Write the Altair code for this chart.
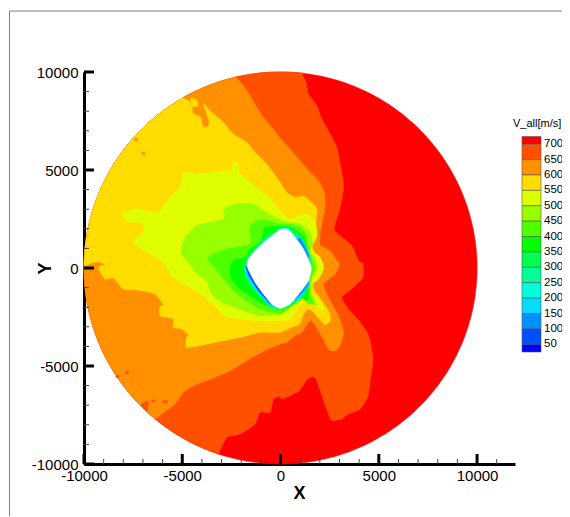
import math
import altair as alt
import pandas as pd

X_TICKS_MAJOR = [-10000, -5000, 0, 5000, 10000]
Y_TICKS_MAJOR = [-10000, -5000, 0, 5000, 10000]
X_TICKS_MINOR = [-9000, -8000, -7000, -6000, -4000, -3000, -2000, -1000, 1000, 2000, 3000, 4000, 6000, 7000, 8000, 9000, 11000]
Y_TICKS_MINOR = [-9000, -8000, -7000, -6000, -4000, -3000, -2000, -1000, 1000, 2000, 3000, 4000, 6000, 7000, 8000, 9000]

LEGEND_TITLE = "V_all[m/s]"
LEGEND_LEVELS = [700, 650, 600, 550, 500, 450, 400, 350, 300, 250, 200, 150, 100, 50]
LEGEND_HIGH = [725, 700, 650, 600, 550, 500, 450, 400, 350, 300, 250, 200, 150, 100, 50]
LEGEND_LOW = [700, 650, 600, 550, 500, 450, 400, 350, 300, 250, 200, 150, 100, 50, 25]
LEGEND_COLORS = ["#ff0000", "#ff5000", "#ff9000", "#ffdd00", "#dfff00", "#99ff00", "#50ff00", "#00ff00",
                 "#00ff50", "#00ff99", "#00ffdd", "#00ddff", "#0090ff", "#0050ff", "#0000ff"]

DISK_RADIUS = 10000

EDGE_650 = [(1131,9809),(1301,9469),(1420,8874),(1845,8279),(2100,7599),(2525,6834),(2865,6154),(3069,5134),(3205,4114),
    (3035,3094),(2729,1989),(3035,1649),(3630,1139),(3970,374),(4191,204),(4191,-476),(3715,-986),(3120,-1496),(3460,-2091),
    (4055,-2771),(4480,-3451),(4701,-4641),(4565,-5746),(4429,-6596),(4055,-7191),(3460,-7446),(3120,-7701),(2610,-7786),
    (2440,-7446),(2185,-6766),(1845,-5746),(1590,-5542),(1301,-5746),(995,-6222),(485,-6511),(60,-6681),(-23,-6562),
    (-362,-6681),(-532,-7361),(-1041,-7361),(-1296,-7956),(-1890,-8381),(-2314,-8551),(-2738,-8636),(-3162,-9486)]
EDGE_600 = [(-2314,9758),(-1890,9299),(-1550,8789),(-1211,8194),(-871,7684),(-447,7174),(-23,6630),(484,6069),(993,5474),
    (1502,4879),(1927,4454),(2215,3859),(2266,3094),(2096,2244),(1977,1394),(2045,1139),(2520,884),(2860,374),(2996,204),
    (2775,-306),(2181,-850),(2521,-1666),(2945,-2431),(3199,-3281),(3030,-3961),(2775,-4216),(2436,-4131),(2181,-3621),
    (1927,-3196),(1587,-2686),(1417,-2771),(1078,-3281),(739,-3451),(314,-3791),(-25,-3876),(-871,-4250),(-1720,-4726),
    (-2568,-5236),(-3756,-5746),(-4435,-6001),(-4944,-6341),(-5369,-6936),(-6387,-7701)]
EDGE_550 = [(-4690,8534),(-4520,8194),(-4435,7854),(-4096,7718),(-3960,7259),(-3756,7174),(-3621,7429),(-3841,8109),
    (-3892,8364),(-3587,8024),(-2908,7429),(-2399,6834),(-1720,6409),(-1296,5899),(-702,5304),(-23,4369),(314,3859),(739,3604),
    (1163,3655),(1587,3349),(1842,3009),(1808,2414),(1672,1649),(1587,1139),(1757,714),(2181,204),(2096,34),(2011,-391),
    (1757,-646),(1638,-986),(2096,-1666),(2487,-2261),(2521,-2686),(2266,-2890),(1977,-2601),(1672,-2261),(1417,-2091),
    (1163,-2346),(993,-2856),(569,-3026),(-25,-3281),(-1041,-3281),(-1890,-3502),(-2908,-3706),(-3756,-3876),(-4775,-4046),
    (-4775,-3536),(-4690,-3400),(-5029,-3111),(-5453,-3026),(-5453,-2601),(-6132,-2431),(-6132,-1972),(-5962,-1870),
    (-6387,-1326),(-7320,-1122),(-7999,-1071),(-8508,-510),(-8932,-561),(-9272,34),(-8932,153),(-9187,306),(-9492,289),
    (-9696,204),(-9950,119)]
REGION_500 = [(-7999,3094),(-7914,2839),(-7235,3009),(-6217,2839),(-5708,3519),(-5114,4114),(-4944,4879),(-4265,4794),
    (-3417,4879),(-2738,4964),(-2484,4964),(-2399,5389),(-2195,5338),(-2093,4828),(-1550,4369),(-956,3859),(-532,3519),
    (-194,3094),(400,2499),(909,2669),(1333,2754),(1758,2329),(1843,1649),(1588,1054),(1673,799),(2012,544),(2182,-51),
    (1927,-561),(1588,-816),(1367,-1377),(1587,-1241),(2181,-2006),(2096,-2176),(1757,-1836),(1502,-1496),(1163,-1666),
    (908,-2006),(484,-2601),(-25,-2686),(-1041,-2686),(-2059,-2601),(-2908,-2431),(-3162,-2091),(-3587,-1751),(-3926,-1411),
    (-4605,-986),(-5453,-476),(-5878,204),(-6217,459),(-6896,884),(-7490,1309),(-6981,1819),(-6981,2244),(-7320,2329),(-7914,2414)]
REGION_450 = [(-5029,1139),(-4775,1649),(-4265,2159),(-2908,2499),(-2874,3009),(-2229,3264),(-1381,3264),(-871,2924),
    (-108,2499),(315,2329),(994,2244),(1503,1819),(1639,1224),(1503,884),(1758,459),(1843,-51),(1588,-561),(1588,-1071),
    (1587,-1326),(1842,-1836),(1672,-1921),(1333,-1581),(1129,-1581),(823,-1802),(484,-2006),(-25,-2346),(-1041,-2431),
    (-1890,-2176),(-2738,-1836),(-3247,-1581),(-3587,-1156),(-3756,-646),(-4265,-306),(-4605,204),(-5029,714)]
REGION_400 = [(-3673,561),(-2739,969),(-1551,1224),(-1551,2074),(-1212,2414),(-618,2414),(-24,2244),(485,2244),(994,2074),
    (1333,1649),(1418,969),(1588,459),(1758,34),(1503,-646),(1469,-1241),(1673,-1751),(1418,-1836),(1079,-1496),(655,-1836),
    (-24,-2346),(-1212,-2006),(-2400,-1156),(-3079,-306),(-3503,204)]
REGION_350 = [(-2570,-51),(-2485,-561),(-2061,-1071),(-1551,-1411),(-873,-1836),(-24,-2091),(485,-1921),(994,-1496),(1333,-1666),
    (1418,-1071),(1249,-731),(1418,-221),(1503,289),(1333,799),(1249,1479),(824,1904),(315,2125),(-788,2074),(-873,1819),
    (-1042,1309),(-1551,969),(-1806,544),(-2400,374)]
REGION_300 = [(-1891,34),(-1806,374),(-1382,969),(-703,1649),(-24,2023),(400,2023),(909,1734),(1367,969),(1503,34),(1367,-731),
    (1164,-1411),(655,-1836),(-24,-2125),(-703,-1666),(-1382,-1156),(-1806,-476)]
REGION_250 = [(-1800,80),(-1350,880),(-650,1550),(50,1980),(380,1960),(860,1600),(1250,880),(1430,30),(1270,-730),(1040,-1300),
    (600,-1720),(-30,-2050),(-680,-1560),(-1340,-1060),(-1730,-400)]
TOP_200 = [(-109,1989),(400,2023),(570,1734),(-24,1649)]
LOWER_LEFT_150 = [(-1789,85),(-1670,-476),(-1246,-1156),(-737,-1751),(-279,-2057),(-24,-1071),(-873,-51)]
LOWER_LEFT_100 = [(-1738,119),(-1585,-425),(-1178,-1071),(-703,-1632),(-448,-1819),(-194,-901),(-1042,34)]
UPPER_RIGHT_150 = [(909,1649),(1300,1054),(1537,289),(994,374),(485,1309)]
UPPER_RIGHT_120 = [(994,1513),(1300,935),(1435,544),(994,629),(655,1224)]
LOWER_RIGHT_150 = [(1503,-731),(1198,-1275),(739,-1717),(485,-1411),(1164,-561)]
LOWER_RIGHT_120 = [(1418,-816),(1079,-1275),(739,-1581),(655,-1241),(1249,-646)]
HOLE = [(146,1989),(400,1955),(739,1564),(1164,969),(1554,34),(1418,-646),(994,-1241),(485,-1836),(-24,-2057),(-448,-1836),
    (-873,-1326),(-1297,-731),(-1687,34),(-1636,459),(-1127,1054),(-533,1564),(-109,1904)]

ISLE_RIM_650 = [(-7099,-6980),(-6726,-6800),(-6811,-7320)]
ISLE_A = [(-6560,-6750),(-6400,-6720),(-6380,-6810),(-6540,-6830)]
ISLE_B = [(-5990,-6790),(-5780,-6770),(-5760,-6860),(-5970,-6880)]
ISLE_C = [(-7900,-5300),(-7760,-5250),(-7740,-5360),(-7880,-5400)]
ISLE_D = [(-8370,-5500),(-8240,-5470),(-8230,-5570),(-8360,-5590)]
ISLE_E = [(-7420,6600),(-7290,6610),(-7280,6490),(-7410,6480)]
ISLE_F = [(-7050,5900),(-6910,5880),(-6900,5770),(-7040,5790)]
PATCH_550 = [(-4571,8653),(-4265,8568),(-4215,8279),(-4520,8228)]


def rim(a0, a1):
    """Points along the edge of the circular domain, from angle a0 to a1 in degrees."""
    n = max(2, int(abs(a1 - a0) / 1.5))
    return [(DISK_RADIUS * math.cos(math.radians(a0 + (a1 - a0) * i / n)),
             DISK_RADIUS * math.sin(math.radians(a0 + (a1 - a0) * i / n))) for i in range(n + 1)]


POLYGONS = [
    (rim(0, 358.5), LEGEND_COLORS[0]),
    (EDGE_650 + rim(251.6, 83.4), LEGEND_COLORS[1]),
    (EDGE_600 + rim(230.3, 103.3), LEGEND_COLORS[2]),
    (ISLE_RIM_650, LEGEND_COLORS[1]),
    (ISLE_A, LEGEND_COLORS[1]), (ISLE_B, LEGEND_COLORS[1]), (ISLE_C, LEGEND_COLORS[1]), (ISLE_D, LEGEND_COLORS[1]),
    (EDGE_550 + rim(179.3, 120), LEGEND_COLORS[3]),
    (PATCH_550, LEGEND_COLORS[3]),
    (ISLE_E, LEGEND_COLORS[2]), (ISLE_F, LEGEND_COLORS[2]),
    (REGION_500, LEGEND_COLORS[4]),
    (REGION_450, LEGEND_COLORS[5]),
    (REGION_400, LEGEND_COLORS[6]),
    (REGION_350, LEGEND_COLORS[7]),
    (REGION_300, LEGEND_COLORS[8]),
    (REGION_250, LEGEND_COLORS[9]),
    (TOP_200, LEGEND_COLORS[10]),
    (LOWER_LEFT_150, LEGEND_COLORS[11]),
    (LOWER_LEFT_100, LEGEND_COLORS[13]),
    (UPPER_RIGHT_150, LEGEND_COLORS[11]),
    (UPPER_RIGHT_120, LEGEND_COLORS[12]),
    (LOWER_RIGHT_150, LEGEND_COLORS[11]),
    (LOWER_RIGHT_120, LEGEND_COLORS[12]),
    (HOLE, "#ffffff"),
]

W, H = 431, 392
FONT = "Liberation Sans"
x_scale = alt.Scale(domain=[-10000, 11930], nice=False, zero=False)
y_scale = alt.Scale(domain=[-10000, 10000], nice=False, zero=False)
x_axis = alt.Axis(
    title="X", values=X_TICKS_MAJOR, labelExpr="'' + datum.value", grid=False, ticks=False, domainColor="black", domainWidth=3,
    labelFontSize=15, labelFont=FONT, labelColor="black", labelPadding=4, labelOverlap=False, labelFlush=False,
    titleFontSize=18, titleFont=FONT, titleFontWeight="bold", titleColor="black", titleX=215, titleY=20)
y_axis = alt.Axis(
    title="Y", values=Y_TICKS_MAJOR, labelExpr="'' + datum.value", grid=False, ticks=False, domainColor="black", domainWidth=3,
    labelFontSize=15, labelFont=FONT, labelColor="black", labelPadding=6, labelOverlap=False, labelFlush=False,
    titleFontSize=18, titleFont=FONT, titleFontWeight="bold", titleColor="black", titleX=-30, titleY=196, titleAngle=-90)
x_enc = alt.X("x:Q", scale=x_scale, axis=x_axis)
y_enc = alt.Y("y:Q", scale=y_scale, axis=y_axis)

layers = []
for pts, colour in POLYGONS:
    df = pd.DataFrame({"x": [p[0] for p in pts], "y": [p[1] for p in pts], "i": range(len(pts))})
    layers.append(
        alt.Chart(df).mark_line(fill=colour, stroke=colour, strokeWidth=0.6,
                                interpolate="cardinal-closed", tension=0.4).encode(
            x=x_enc, y=y_enc, order="i:Q"))


def xticks(vals, length, width, colour):
    return alt.Chart(pd.DataFrame({"x": vals})).mark_rule(strokeWidth=width, color=colour).encode(
        x=x_enc, y=alt.value(H), y2=alt.value(H - length))


def yticks(vals, length, width, colour):
    return alt.Chart(pd.DataFrame({"y": vals})).mark_rule(strokeWidth=width, color=colour).encode(
        y=y_enc, x=alt.value(0), x2=alt.value(length))


layers += [xticks(X_TICKS_MINOR, 5, 1, "#444444"), yticks(Y_TICKS_MINOR, 5, 1, "#444444"),
           xticks(X_TICKS_MAJOR, 10, 3, "black"), yticks(Y_TICKS_MAJOR, 10, 3, "black")]

one = pd.DataFrame({"t": [LEGEND_TITLE]})
frame_top = alt.Chart(one).mark_rule(strokeWidth=1, color="#808080").encode(
    x=alt.value(-74.5), x2=alt.value(490), y=alt.value(-61))
frame_left = alt.Chart(one).mark_rule(strokeWidth=1, color="#808080").encode(
    x=alt.value(-74.5), y=alt.value(-61), y2=alt.value(450))
layers += [frame_top, frame_left]

main = alt.layer(*layers)

legend_scale = alt.Scale(domain=[25, 725], range=[280, 64.5], nice=False, zero=False)
legend_df = pd.DataFrame({"lo": LEGEND_LOW, "hi": LEGEND_HIGH, "c": LEGEND_COLORS})
legend_rect = alt.Chart(legend_df).mark_rect(stroke="#555555", strokeWidth=0.6).encode(
    x=alt.value(438), x2=alt.value(457),
    y=alt.Y("hi:Q", scale=legend_scale, axis=None), y2="lo:Q",
    color=alt.Color("c:N", scale=None, legend=None))
legend_text = alt.Chart(pd.DataFrame({"v": LEGEND_LEVELS})).mark_text(
    align="left", baseline="middle", fontSize=11.5, font=FONT, color="black").encode(
    x=alt.value(460), y=alt.Y("v:Q", scale=legend_scale, axis=None), text="v:Q")
legend_title = alt.Chart(one).mark_text(
    align="left", baseline="middle", fontSize=11, font=FONT, color="black").encode(
    x=alt.value(429), y=alt.value(51.5), text="t:N")
legend = alt.layer(legend_rect, legend_text, legend_title)

chart = alt.layer(main, legend).resolve_scale(y="independent").properties(
    width=W, height=H,
    padding={"left": 76, "top": 64, "right": 47, "bottom": 52},
    autosize=alt.AutoSizeParams(type="none"),
    background="white",
).configure_view(stroke=None)

chart.save("out.html", embed_options={"renderer": "svg", "actions": False})
